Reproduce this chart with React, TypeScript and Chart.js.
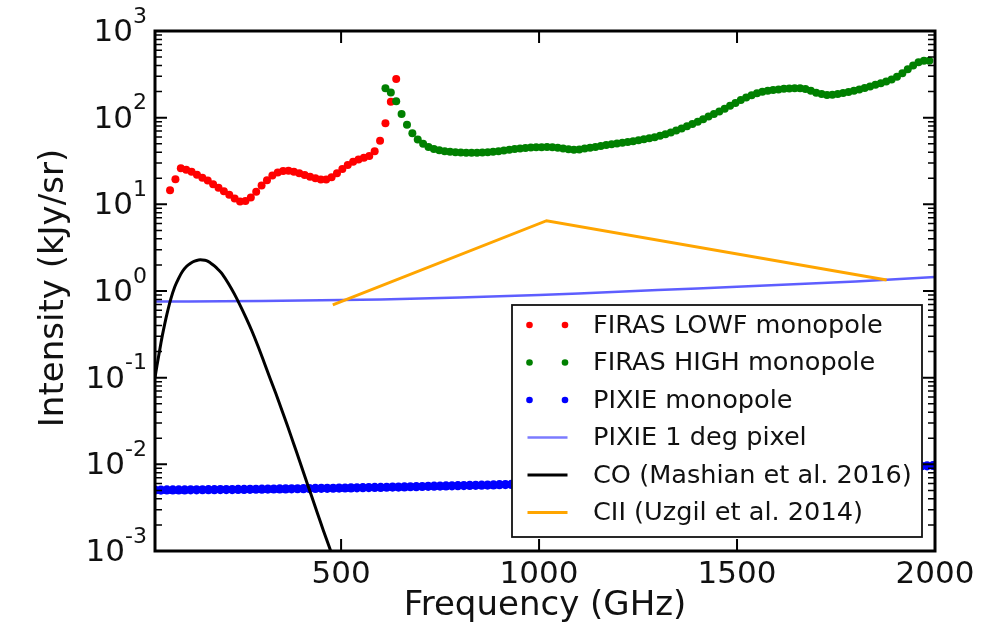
import React, { useEffect, useRef } from 'react';
import { Chart, registerables } from 'chart.js';

Chart.register(...registerables);

const WIDTH = 1002;
const HEIGHT = 640;

// FIRAS low-frequency channel monopole (GHz, kJy/sr)
const lowfFreq = [
  68.0, 81.6, 95.2, 108.8, 122.4, 136.0, 149.6, 163.2, 176.8, 190.4, 204.0,
  217.6, 231.2, 244.8, 258.4, 272.0, 285.6, 299.2, 312.8, 326.4, 340.0, 353.6,
  367.2, 380.8, 394.4, 408.0, 421.6, 435.2, 448.8, 462.4, 476.0, 489.6, 503.2,
  516.8, 530.4, 544.0, 557.6, 571.2, 584.8, 598.4, 612.0, 625.6, 639.2,
];
const lowfMonopole = [
  14.5, 19.5, 26, 25, 23.8, 22, 20.3, 18.8, 17, 15.5, 14.2,
  12.9, 11.7, 10.8, 10.9, 12, 14, 16.5, 19, 21.5, 23.3, 24.3,
  24.4, 23.7, 22.8, 21.8, 20.8, 20, 19.4, 19.3, 20.5, 22.8, 25.5,
  28.5, 31, 33, 34.5, 36, 41, 54, 86, 153, 280,
];

// FIRAS high-frequency channel monopole
const highFreq = [
  612.0, 625.6, 639.2, 652.8, 666.4, 680.0, 693.6, 707.2, 720.8, 734.4, 748.0,
  761.6, 775.2, 788.8, 802.4, 816.0, 829.6, 843.2, 856.8, 870.4, 884.0, 897.6,
  911.2, 924.8, 938.4, 952.0, 965.6, 979.2, 992.8, 1006.4, 1020.0, 1033.6,
  1047.2, 1060.8, 1074.4, 1088.0, 1101.6, 1115.2, 1128.8, 1142.4, 1156.0,
  1169.6, 1183.2, 1196.8, 1210.4, 1224.0, 1237.6, 1251.2, 1264.8, 1278.4,
  1292.0, 1305.6, 1319.2, 1332.8, 1346.4, 1360.0, 1373.6, 1387.2, 1400.8,
  1414.4, 1428.0, 1441.6, 1455.2, 1468.8, 1482.4, 1496.0, 1509.6, 1523.2,
  1536.8, 1550.4, 1564.0, 1577.6, 1591.2, 1604.8, 1618.4, 1632.0, 1645.6,
  1659.2, 1672.8, 1686.4, 1700.0, 1713.6, 1727.2, 1740.8, 1754.4, 1768.0,
  1781.6, 1795.2, 1808.8, 1822.4, 1836.0, 1849.6, 1863.2, 1876.8, 1890.4,
  1904.0, 1917.6, 1931.2, 1944.8, 1958.4, 1972.0, 1985.6,
];
const highMonopole = [
  218, 195, 155, 110, 83, 66, 56, 50, 46, 43.5, 42,
  41, 40.4, 40, 39.7, 39.5, 39.4, 39.5, 39.6, 39.8, 40.3, 41,
  41.7, 42.5, 43.4, 44.2, 44.8, 45.2, 45.5, 45.6, 45.8, 45.7,
  45, 44, 43.2, 42.6, 43, 44, 45, 46, 47.2,
  48.3, 49.3, 50.3, 51.3, 52.3, 53.5, 54.8, 56.2, 57.7,
  59.6, 61.8, 64.5, 67.5, 71, 75, 79.5, 84.5, 90,
  96, 103, 110, 118, 127, 137, 148, 160, 171,
  181, 191, 199, 205, 209, 212, 215, 217, 218,
  218, 214, 204, 194, 187, 183, 184, 187, 192,
  198, 205, 212, 220, 229, 239, 250, 262, 276,
  296, 325, 362, 400, 435, 455, 455,
];

// PIXIE monopole sensitivity (15 GHz channels)
const pixieFreq = [
  30, 45, 60, 75, 90, 105, 120, 135, 150, 165, 180, 195, 210, 225, 240, 255,
  270, 285, 300, 315, 330, 345, 360, 375, 390, 405, 420, 435, 450, 465, 480,
  495, 510, 525, 540, 555, 570, 585, 600, 615, 630, 645, 660, 675, 690, 705,
  720, 735, 750, 765, 780, 795, 810, 825, 840, 855, 870, 885, 900, 915, 930,
  945, 960, 975, 990, 1005, 1020, 1035, 1050, 1065, 1080, 1095, 1110, 1125,
  1140, 1155, 1170, 1185, 1200, 1215, 1230, 1245, 1260, 1275, 1290, 1305,
  1320, 1335, 1350, 1365, 1380, 1395, 1410, 1425, 1440, 1455, 1470, 1485,
  1500, 1515, 1530, 1545, 1560, 1575, 1590, 1605, 1620, 1635, 1650, 1665,
  1680, 1695, 1710, 1725, 1740, 1755, 1770, 1785, 1800, 1815, 1830, 1845,
  1860, 1875, 1890, 1905, 1920, 1935, 1950, 1965, 1980, 1995,
];
const pixieMonopole = [
  0.00505, 0.00505, 0.00506, 0.00506, 0.00507, 0.00507, 0.00508, 0.00508,
  0.00509, 0.0051, 0.0051, 0.00511, 0.00512, 0.00512, 0.00513, 0.00514,
  0.00515, 0.00516, 0.00517, 0.00518, 0.00519, 0.0052, 0.00521, 0.00522,
  0.00523, 0.00524, 0.00525, 0.00527, 0.00528, 0.00529, 0.0053, 0.00532,
  0.00533, 0.00535, 0.00536, 0.00538, 0.00539, 0.00541, 0.00542, 0.00544,
  0.00546, 0.00547, 0.00549, 0.00551, 0.00553, 0.00555, 0.00557, 0.00559,
  0.00561, 0.00563, 0.00565, 0.00567, 0.00569, 0.00571, 0.00573, 0.00575,
  0.00577, 0.00579, 0.00582, 0.00584, 0.00587, 0.0059, 0.00593, 0.00596,
  0.00599, 0.00602, 0.00605, 0.00608, 0.00611, 0.00614, 0.00617, 0.00621,
  0.00624, 0.00628, 0.00631, 0.00635, 0.00639, 0.00642, 0.00646, 0.0065,
  0.00654, 0.00658, 0.00662, 0.00666, 0.0067, 0.00675, 0.00679, 0.00683,
  0.00688, 0.00692, 0.00697, 0.00702, 0.00706, 0.00711, 0.00716, 0.00721,
  0.00726, 0.00731, 0.00737, 0.00742, 0.00748, 0.00753, 0.00759, 0.00765,
  0.00771, 0.00777, 0.00783, 0.00789, 0.00795, 0.00802, 0.00808, 0.00815,
  0.00822, 0.00829, 0.00836, 0.00843, 0.0085, 0.00858, 0.00865, 0.00873,
  0.00881, 0.00889, 0.00897, 0.00905, 0.00913, 0.00921, 0.0093, 0.00938,
  0.00946, 0.00954, 0.00962, 0.0097,
];

// PIXIE sensitivity for a 1 degree pixel
const pixelFreq = [30, 200, 400, 600, 800, 1000, 1200, 1400, 1600, 1800, 2000];
const pixelIntensity = [0.755, 0.76, 0.775, 0.8, 0.84, 0.9, 0.98, 1.07, 1.17, 1.29, 1.45];

// CO intensity mapping model
const coFreq = [
  30, 35, 40, 45, 50, 60, 70, 80, 90, 100, 110, 120, 130, 140, 150, 160, 170,
  180, 190, 200, 215, 230, 245, 260, 275, 290, 305, 320, 335, 350, 365, 380,
  395, 410, 425, 440, 455, 470, 485, 500,
];
const coIntensity = [
  0.1, 0.138, 0.186, 0.251, 0.331, 0.537, 0.813, 1.12, 1.41, 1.7, 1.93, 2.09,
  2.21, 2.28, 2.28, 2.24, 2.11, 1.95, 1.76, 1.57, 1.23, 0.933, 0.684, 0.49,
  0.343, 0.232, 0.153, 0.1, 0.066, 0.0427, 0.0275, 0.0174, 0.011, 0.0069,
  0.00437, 0.00275, 0.00174, 0.00112, 0.00071, 0.00045,
];

// CII intensity mapping model
const ciiFreq = [479, 1019, 1878];
const ciiIntensity = [0.69, 6.47, 1.34];

// Axis ticks
const xTicks = [500, 1000, 1500, 2000];
const yTicks = [1e-3, 1e-2, 1e-1, 1e0, 1e1, 1e2, 1e3];
const yTickExponents = ['-3', '-2', '-1', '0', '1', '2', '3'];
const minorMantissas = [2, 3, 4, 5, 6, 7, 8, 9];

const X_MIN = 30;
const X_MAX = 2000;
const FONT = "'DejaVu Sans', 'Liberation Sans', sans-serif";

const toPoints = (xs: number[], ys: number[]) => xs.map((x, i) => ({ x, y: ys[i] }));

type LegendKind = 'dots' | 'line';

const decorPlugin = {
  id: 'decor',
  afterDatasetsDraw(chart: any) {
    const ctx: CanvasRenderingContext2D = chart.ctx;
    const { left, right, top, bottom } = chart.chartArea;
    const xs = chart.scales.x;
    const ys = chart.scales.y;
    ctx.save();

    // Legend box
    const lx0 = 512, lx1 = 922, ly0 = 305, ly1 = 537;
    ctx.fillStyle = '#ffffff';
    ctx.fillRect(lx0, ly0, lx1 - lx0, ly1 - ly0);
    ctx.strokeStyle = '#111';
    ctx.lineWidth = 1.8;
    ctx.strokeRect(lx0, ly0, lx1 - lx0, ly1 - ly0);

    const rowStart = 325;
    const rowStep = 37.5;
    chart.data.datasets.forEach((ds: any, i: number) => {
      const y = rowStart + i * rowStep;
      const kind: LegendKind = ds.showLine ? 'line' : 'dots';
      if (kind === 'dots') {
        ctx.fillStyle = ds.pointBackgroundColor;
        [529.5, 565].forEach((cx) => {
          ctx.beginPath();
          ctx.arc(cx, y, 3.3, 0, Math.PI * 2);
          ctx.fill();
        });
      } else {
        ctx.strokeStyle = ds.legendColor || ds.borderColor;
        ctx.lineWidth = ds.borderWidth;
        ctx.beginPath();
        ctx.moveTo(527.5, y);
        ctx.lineTo(567.5, y);
        ctx.stroke();
      }
      ctx.fillStyle = '#111';
      ctx.font = `25.6px ${FONT}`;
      ctx.textAlign = 'left';
      ctx.textBaseline = 'middle';
      ctx.fillText(ds.label, 593, y + 1);
    });

    // Tick marks (inward, on all four sides)
    ctx.strokeStyle = '#000';
    ctx.lineWidth = 2;
    xTicks.forEach((v) => {
      const px = xs.getPixelForValue(v);
      ctx.beginPath();
      ctx.moveTo(px, bottom);
      ctx.lineTo(px, bottom - 12);
      ctx.moveTo(px, top);
      ctx.lineTo(px, top + 12);
      ctx.stroke();
    });
    yTicks.forEach((v) => {
      const py = ys.getPixelForValue(v);
      ctx.lineWidth = 2;
      ctx.beginPath();
      ctx.moveTo(left, py);
      ctx.lineTo(left + 12, py);
      ctx.moveTo(right, py);
      ctx.lineTo(right - 12, py);
      ctx.stroke();
    });
    ctx.lineWidth = 1.5;
    yTicks.slice(0, -1).forEach((decade) => {
      minorMantissas.forEach((m) => {
        const py = ys.getPixelForValue(decade * m);
        ctx.beginPath();
        ctx.moveTo(left, py);
        ctx.lineTo(left + 7, py);
        ctx.moveTo(right, py);
        ctx.lineTo(right - 7, py);
        ctx.stroke();
      });
    });

    // Axes frame
    ctx.lineWidth = 3;
    ctx.strokeRect(left, top, right - left, bottom - top);

    // X tick labels
    ctx.fillStyle = '#111';
    ctx.font = `31px ${FONT}`;
    ctx.textAlign = 'center';
    ctx.textBaseline = 'middle';
    xTicks.forEach((v) => {
      ctx.fillText(String(v), xs.getPixelForValue(v), 575);
    });

    // Y tick labels: 10 with a raised exponent
    yTicks.forEach((v, i) => {
      const py = ys.getPixelForValue(v);
      const exp = yTickExponents[i];
      ctx.font = `22px ${FONT}`;
      const ew = ctx.measureText(exp).width;
      const xr = 147;
      ctx.textAlign = 'left';
      ctx.textBaseline = 'middle';
      ctx.fillText(exp, xr - ew, py - 14);
      ctx.font = `31px ${FONT}`;
      ctx.textAlign = 'right';
      ctx.fillText('10', xr - ew, py + 2);
    });

    // Axis titles
    ctx.font = `34px ${FONT}`;
    ctx.textAlign = 'center';
    ctx.textBaseline = 'middle';
    ctx.fillText('Frequency (GHz)', 545, 606);
    ctx.translate(54, 288);
    ctx.rotate(-Math.PI / 2);
    ctx.fillText('Intensity (kJy/sr)', 0, 0);

    ctx.restore();
  },
};

export default function App() {
  const canvasRef = useRef<HTMLCanvasElement | null>(null);

  useEffect(() => {
    const canvas = canvasRef.current;
    if (!canvas) return;
    const dotSet = (label: string, color: string, xsv: number[], ysv: number[], order: number, radius: number) => ({
      label,
      data: toPoints(xsv, ysv),
      showLine: false,
      pointRadius: radius,
      pointBorderWidth: 0,
      pointBackgroundColor: color,
      pointBorderColor: color,
      order,
      clip: 0,
    });
    const lineSet = (label: string, color: string, xsv: number[], ysv: number[], order: number, width: number, tension: number, legendColor?: string) => ({
      label,
      data: toPoints(xsv, ysv),
      showLine: true,
      borderColor: color,
      legendColor,
      borderWidth: width,
      pointRadius: 0,
      tension,
      fill: false,
      order,
      clip: 0,
    });

    const chart = new Chart(canvas, {
      type: 'scatter',
      data: {
        datasets: [
          dotSet('FIRAS LOWF monopole', '#ff0000', lowfFreq, lowfMonopole, 5, 4),
          dotSet('FIRAS HIGH monopole', '#008000', highFreq, highMonopole, 4, 4),
          dotSet('PIXIE monopole', '#0000ff', pixieFreq, pixieMonopole, 3, 4.6),
          lineSet('PIXIE 1 deg pixel', 'rgba(40,40,255,0.75)', pixelFreq, pixelIntensity, 2, 2.5, 0.3, 'rgba(90,90,255,0.8)'),
          lineSet('CO (Mashian et al. 2016)', '#000000', coFreq, coIntensity, 1, 3, 0.3),
          lineSet('CII (Uzgil et al. 2014)', '#ffa500', ciiFreq, ciiIntensity, 0, 3, 0),
        ] as any,
      },
      options: {
        responsive: false,
        animation: false,
        events: [],
        layout: { padding: { left: 155, right: WIDTH - 935, top: 31, bottom: HEIGHT - 551 } },
        scales: {
          x: { type: 'linear', min: X_MIN, max: X_MAX, display: false },
          y: { type: 'logarithmic', min: 1e-3, max: 1e3, display: false },
        },
        plugins: {
          legend: { display: false },
          tooltip: { enabled: false },
        },
      },
      plugins: [decorPlugin],
    });
    return () => chart.destroy();
  }, []);

  return (
    <div style={{ position: 'fixed', left: 0, top: 0, width: WIDTH, height: HEIGHT, background: '#ffffff' }}>
      <canvas ref={canvasRef} width={WIDTH} height={HEIGHT} style={{ display: 'block' }} />
    </div>
  );
}
